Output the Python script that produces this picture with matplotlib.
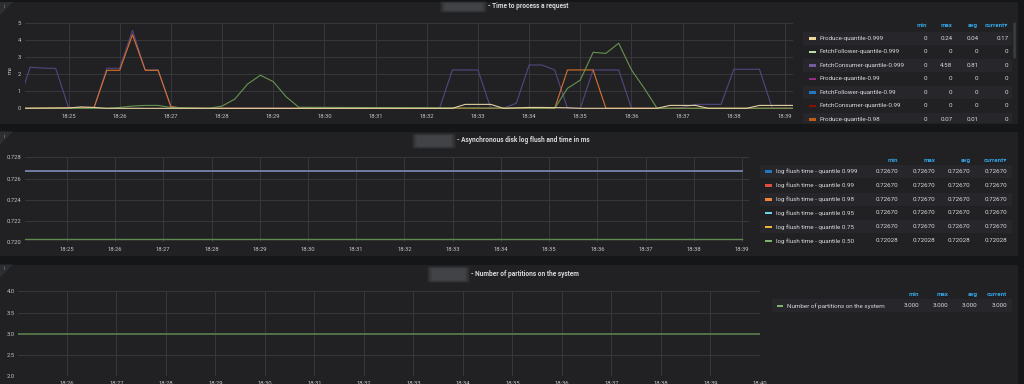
import numpy as np
import pandas as pd
import matplotlib
matplotlib.use("Agg")
import matplotlib.pyplot as plt
import matplotlib.dates as mdates
from matplotlib.patches import Rectangle, Polygon, FancyBboxPatch
from matplotlib.ticker import FormatStrFormatter

plt.rcParams['font.family'] = ['Roboto', 'DejaVu Sans']

DAY = "2021-01-01 "

# ---- panel 1: Time to process a request (vertices)
purple_t = ["18:24:00", "18:24:15", "18:24:30", "18:24:45", "18:25:00", "18:25:30", "18:25:45",
            "18:26:00", "18:26:15", "18:26:30", "18:26:45", "18:27:00", "18:27:15", "18:32:15",
            "18:32:30", "18:33:00", "18:33:15", "18:33:30", "18:33:45", "18:34:00", "18:34:15",
            "18:34:30", "18:34:45", "18:35:00", "18:35:15", "18:35:45", "18:36:00", "18:36:45",
            "18:37:00", "18:37:15", "18:37:45", "18:38:00", "18:38:30", "18:38:45", "18:39:15"]
purple_v = [0.1, 2.4, 2.35, 2.33, 0.05, 0.05, 2.34, 2.34, 4.55, 2.24, 2.24, 0.1, 0, 0,
            2.24, 2.24, 0, 0, 0.3, 2.53, 2.53, 2.24, 0, 0, 2.24, 2.24, 0, 0,
            0.05, 0.23, 0.23, 2.28, 2.28, 0, 0]

orange_t = ["18:24:00", "18:25:30", "18:25:45", "18:26:00", "18:26:15", "18:26:30", "18:26:45",
            "18:27:00", "18:27:15", "18:34:30", "18:34:45", "18:35:15", "18:35:30", "18:39:15"]
orange_v = [0, 0.05, 2.22, 2.22, 4.3, 2.22, 2.22, 0.1, 0, 0, 2.24, 2.24, 0, 0]

green_t = ["18:24:00", "18:25:45", "18:26:00", "18:26:15", "18:26:30", "18:26:45", "18:27:00",
           "18:27:45", "18:28:00", "18:28:15", "18:28:30", "18:28:45", "18:29:00", "18:29:15",
           "18:29:30", "18:34:30", "18:34:45", "18:35:00", "18:35:15", "18:35:30", "18:35:45",
           "18:36:00", "18:36:15", "18:36:30", "18:39:15"]
green_v = [0, 0, 0.05, 0.13, 0.17, 0.17, 0.05, 0, 0.13, 0.54, 1.42, 1.93, 1.56, 0.68,
           0.06, 0, 1.17, 1.65, 3.27, 3.21, 3.8, 2.24, 1.17, 0, 0]

tan_t = ["18:24:00", "18:25:00", "18:25:15", "18:25:30", "18:25:45", "18:32:30", "18:32:45",
         "18:33:15", "18:33:30", "18:34:00", "18:34:15", "18:34:45", "18:35:00", "18:36:30",
         "18:36:45", "18:37:15", "18:37:30", "18:38:15", "18:38:30", "18:39:15"]
tan_v = [0, 0.02, 0.08, 0.05, 0, 0, 0.23, 0.23, 0, 0.05, 0.05, 0.03, 0, 0,
         0.17, 0.17, 0, 0, 0.17, 0.17]

p1_names = ["Produce-quantile-0.999", "FetchFollower-quantile-0.999", "FetchConsumer-quantile-0.999",
            "Produce-quantile-0.99", "FetchFollower-quantile-0.99", "FetchConsumer-quantile-0.99",
            "Produce-quantile-0.98"]
p1_colors = ["#eed8a0", "#b7dbab", "#705da0", "#962d82", "#1f78c1", "#890f02", "#c15c17"]
p1_min = [0, 0, 0, 0, 0, 0, 0]
p1_max = [0.24, 0, 4.58, 0, 0, 0, 0.07]
p1_avg = [0.04, 0, 0.81, 0, 0, 0, 0.01]
p1_cur = [0.17, 0, 0, 0, 0, 0, 0]

# ---- panel 2: log flush
flush_t = ["18:24:00", "18:39:00"]
p2_names = ["log flush time - quantile 0.999", "log flush time - quantile 0.99",
            "log flush time - quantile 0.98", "log flush time - quantile 0.95",
            "log flush time - quantile 0.75", "log flush time - quantile 0.50"]
p2_colors = ["#1f78c1", "#e24d42", "#ef843c", "#6ed0e0", "#eab839", "#7eb26d"]
p2_vals = [0.72670, 0.72670, 0.72670, 0.72670, 0.72670, 0.72028]

# ---- panel 3: partitions
part_t = ["18:25:00", "18:40:00"]
part_v = [3, 3]
p3_names = ["Number of partitions on the system"]
p3_colors = ["#7eb26d"]
p3_vals = [3.0]

PAGE = "#151618"
PANEL = "#212124"
STRIPE = "#27272b"
GRID = "#37383c"
TICK = "#c3c4c6"
TEXT = "#d8d9da"
HEAD = "#33a5e5"

W, H = 1024, 384
fig = plt.figure(figsize=(W / 100, H / 100), dpi=100)
fig.patch.set_facecolor(PAGE)


def box(x0, y0, x1, y1):
    return [x0 / W, 1 - y1 / H, (x1 - x0) / W, (y1 - y0) / H]


def ts(lst):
    return pd.to_datetime([DAY + t for t in lst])


bg = fig.add_axes([0, 0, 1, 1], zorder=0)
bg.set_xlim(0, W)
bg.set_ylim(H, 0)
bg.axis('off')

panels = [(2, 124), (131.5, 256), (264.5, 390)]
for top, bot in panels:
    bg.add_patch(Rectangle((0, top), 1017.5, bot - top, color=PANEL, lw=0))
    bg.add_patch(Polygon([(0, top), (13, top), (0, top + 13)], closed=True, color="#2d2e32", lw=0))
    bg.text(4.5, top + 4.5, "i", fontsize=4, color="#8a8b8e", ha='center', va='center')

# titles with blurred name
titles = [(440, 487, 3, 11, 6.5, "- Time to process a request"),
          (412, 456, 135, 147, 140.5, "- Asynchronous disk log flush and time in ms"),
          (427, 470, 268, 281, 274.5, "- Number of partitions on the system")]
for x0, x1, y0, y1, yc, t in titles:
    for k, a in enumerate([0.25, 0.3, 0.35]):
        bg.add_patch(FancyBboxPatch((x0 + 2 + k * 2, y0 + k), x1 - x0 - 4 - k * 4, y1 - y0 - 2 * k,
                                    boxstyle="round,pad=1.5", color="#55565b", alpha=a, lw=0))
    bg.text(x1 + 1, yc, t, fontsize=4.7, fontweight='bold', color=TEXT, ha='left', va='center')

bg.text(10, 70, "ms", fontsize=4.2, color=TICK, rotation=90, ha='center', va='center')
bg.add_patch(FancyBboxPatch((1013.8, 23), 1.6, 35, boxstyle="round,pad=0.4", color="#3d3e42", lw=0))


def setup_plot(rect, xlim, ylim, yticks, yfmt, ypad):
    ax = fig.add_axes(box(*rect), zorder=2)
    ax.set_facecolor('none')
    for s in ax.spines.values():
        s.set_visible(False)
    ax.set_xlim(pd.Timestamp(DAY + xlim[0]), pd.Timestamp(DAY + xlim[1]))
    ax.set_ylim(*ylim)
    ax.set_yticks(yticks)
    ax.yaxis.set_major_formatter(FormatStrFormatter(yfmt))
    ax.xaxis.set_major_locator(mdates.MinuteLocator())
    ax.xaxis.set_major_formatter(mdates.DateFormatter('%H:%M'))
    ax.grid(True, color=GRID, lw=0.7)
    ax.set_axisbelow(True)
    ax.tick_params(axis='x', length=0, labelsize=4.2, colors=TICK, pad=3.6)
    ax.tick_params(axis='y', length=0, labelsize=4.2, colors=TICK, pad=ypad)
    return ax


# panel 1 plot
ax1 = setup_plot((25, 22.7, 792.7, 109.0), ("18:24:09", "18:39:09"), (-0.04, 5),
                 [0, 1, 2, 3, 4, 5], '%d', 3.0)
ax1.plot(ts(purple_t), purple_v, color="#54467f", lw=0.8)
ax1.plot(ts(orange_t), orange_v, color="#d8722f", lw=0.8)
ax1.plot(ts(green_t), green_v, color="#66934f", lw=0.8)
ax1.plot(ts(tan_t), tan_v, color="#e2d0a2", lw=0.8)

# panel 2 plot: the 0.72670 series overlap, 0.999 drawn last on top
ax2 = setup_plot((25, 157.3, 749.3, 242.3), ("18:24:08", "18:39:09"), (0.720, 0.728),
                 [0.720, 0.722, 0.724, 0.726, 0.728], '%.3f', 2.4)
for i in reversed(range(len(p2_names))):
    if i == 0:
        ax2.plot(ts(flush_t), [p2_vals[i]] * len(flush_t), color="#6f7ca3", lw=1.4)
    elif i == len(p2_names) - 1:
        ax2.plot(ts(flush_t), [p2_vals[i]] * len(flush_t), color="#5f8a4e", lw=1.0)
    else:
        ax2.plot(ts(flush_t), [p2_vals[i]] * len(flush_t), color=p2_colors[i], lw=0.4)

# panel 3 plot
ax3 = setup_plot((18.3, 291.3, 760, 376.3), ("18:25:01", "18:40:00"), (2, 4),
                 [2.0, 2.5, 3.0, 3.5, 4.0], '%.1f', 2.4)
ax3.plot(ts(part_t), part_v, color="#56784a", lw=1.3)


def legend(area, head_y, cols, headers, row_y0, dy, sw, lab_x, stripe_x, names, colors, values, fmt):
    lax = fig.add_axes(box(*area), zorder=3)
    lax.set_xlim(area[0], area[2])
    lax.set_ylim(area[3], area[1])
    lax.axis('off')
    for cx, h in zip(cols, headers):
        lax.text(cx, head_y, h, fontsize=4.4, fontweight='bold', color=HEAD,
                 ha='right', va='center', clip_on=True)
    for i, name in enumerate(names):
        y = row_y0 + i * dy
        if i % 2 == 0:
            lax.add_patch(Rectangle((stripe_x[0], y - 6.5), stripe_x[1] - stripe_x[0], 13,
                                    color=STRIPE, lw=0))
        lax.add_patch(Rectangle((sw[0], y - 1.2), sw[1] - sw[0], 2.6, color=colors[i], lw=0))
        lax.text(lab_x, y, name, fontsize=4.5, color=TEXT, ha='left', va='center', clip_on=True)
        for cx, v in zip(cols, values):
            lax.text(cx, y, fmt.format(v[i]), fontsize=4.5, color=TEXT,
                     ha='right', va='center', clip_on=True)


legend((800, 16, 1013, 122.5), 25.7, [926.7, 952.3, 978.3, 1008.3],
       ["min", "max", "avg", "current\u25be"], 38.3, 13.5, (809, 815.7), 819.3, (803, 1011.7),
       p1_names, p1_colors, [p1_min, p1_max, p1_avg, p1_cur], "{:g}")

legend((755, 150, 1013, 250), 160.3, [898.3, 935, 970.7, 1007.3],
       ["min", "max", "avg", "current\u25be"], 171.3, 13.9, (765, 771.7), 776, (760, 1012.3),
       p2_names, p2_colors, [p2_vals] * 4, "{:.5f}")

legend((765, 285, 1013, 320), 294, [919.3, 948.7, 977.7, 1007.3],
       ["min", "max", "avg", "current"], 305.7, 14, (776.7, 783.3), 787.3, (771.7, 1012.3),
       p3_names, p3_colors, [p3_vals] * 4, "{:.3f}")

fig.savefig("out.png", dpi=100, facecolor=PAGE)
